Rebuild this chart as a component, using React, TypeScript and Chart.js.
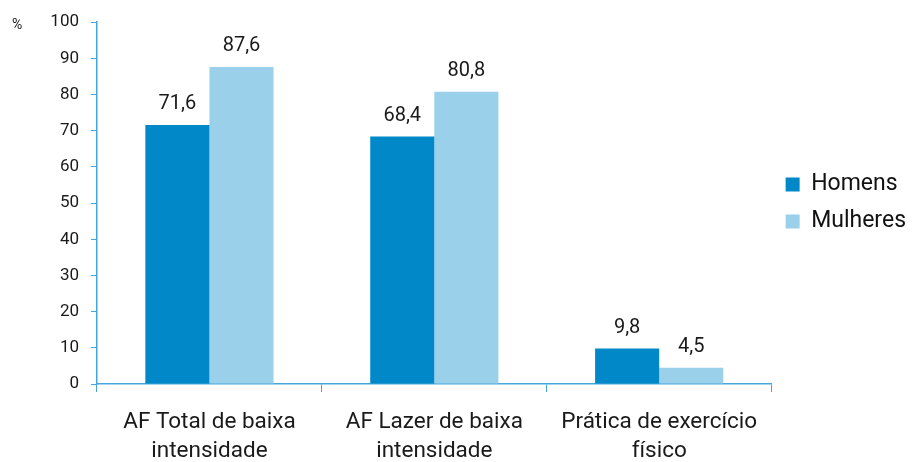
import React, { useEffect, useRef } from "react";
import { Chart, registerables } from "chart.js";

Chart.register(...registerables);

const categories: string[][] = [
  ["AF Total de baixa", "intensidade"],
  ["AF Lazer de baixa", "intensidade"],
  ["Prática de exercício", "físico"],
];
const homens: number[] = [71.6, 68.4, 9.8];
const mulheres: number[] = [87.6, 80.8, 4.5];
const seriesNames: string[] = ["Homens", "Mulheres"];
const yTicks: number[] = [0, 10, 20, 30, 40, 50, 60, 70, 80, 90, 100];

const AXIS = "#45A6DD";
const FONT = "Roboto, 'Noto Sans', sans-serif";

const valueLabels = {
  id: "valueLabels",
  afterLayout(chart: any) {
    const lg = chart.legend;
    if (lg) {
      lg.bottom = chart.chartArea.bottom;
      lg.top = chart.chartArea.top;
      lg.height = lg.bottom - lg.top;
    }
  },
  afterDatasetsDraw(chart: any) {
    const ctx = chart.ctx;
    ctx.save();
    ctx.font = `20px ${FONT}`;
    ctx.fillStyle = "#1a1a1a";
    ctx.textAlign = "center";
    ctx.textBaseline = "bottom";
    chart.data.datasets.forEach((ds: any, di: number) => {
      const meta = chart.getDatasetMeta(di);
      meta.data.forEach((bar: any, i: number) => {
        const v = ds.data[i] as number;
        ctx.fillText(v.toFixed(1).replace(".", ","), bar.x, bar.y - 11);
      });
    });
    ctx.font = `14px ${FONT}`;
    ctx.textAlign = "left";
    ctx.textBaseline = "middle";
    ctx.fillText("%", 12, 25);
    ctx.restore();
  },
};

export default function App() {
  const ref = useRef<HTMLCanvasElement>(null);
  useEffect(() => {
    if (!ref.current) return;
    const chart = new Chart(ref.current, {
      type: "bar",
      data: {
        labels: categories,
        datasets: [
          { label: seriesNames[0], data: homens, backgroundColor: "#0088C8" },
          { label: seriesNames[1], data: mulheres, backgroundColor: "#9BD0EA" },
        ],
      },
      options: {
        animation: false,
        responsive: true,
        maintainAspectRatio: false,
        layout: { padding: { top: 8, right: -2, left: 0, bottom: 0 } },
        datasets: { bar: { categoryPercentage: 0.57, barPercentage: 1.0 } },
        plugins: {
          tooltip: { enabled: false },
          legend: {
            position: "right",
            align: "center",
            labels: {
              font: { family: FONT, size: 23 },
              color: "#111",
              boxWidth: 14,
              boxHeight: 14,
              padding: 14,
            },
          },
        },
        scales: {
          x: {
            offset: true,
            grid: {
              display: true,
              drawOnChartArea: false,
              offset: true,
              tickLength: 8,
              color: AXIS,
            },
            border: { color: AXIS, width: 1.5 },
            ticks: {
              font: { family: FONT, size: 22.5, lineHeight: 1.28 },
              color: "#1a1a1a",
              padding: 16,
              maxRotation: 0,
            },
            afterFit(scale: any) {
              scale.height = 78;
            },
          },
          y: {
            min: 0,
            max: 100,
            afterBuildTicks(scale: any) {
              scale.ticks = yTicks.map((v) => ({ value: v }));
            },
            grid: {
              display: true,
              drawOnChartArea: false,
              tickLength: 6,
              color: AXIS,
            },
            border: { color: AXIS, width: 1.5 },
            ticks: {
              font: { family: FONT, size: 17 },
              color: "#1a1a1a",
              padding: 12,
            },
            afterFit(scale: any) {
              scale.width = 97;
            },
          },
        },
      },
      plugins: [valueLabels],
    });
    return () => chart.destroy();
  }, []);
  return (
    <div style={{ width: 914, height: 462, position: "absolute", left: 0, top: 0 }}>
      <canvas ref={ref} />
    </div>
  );
}
